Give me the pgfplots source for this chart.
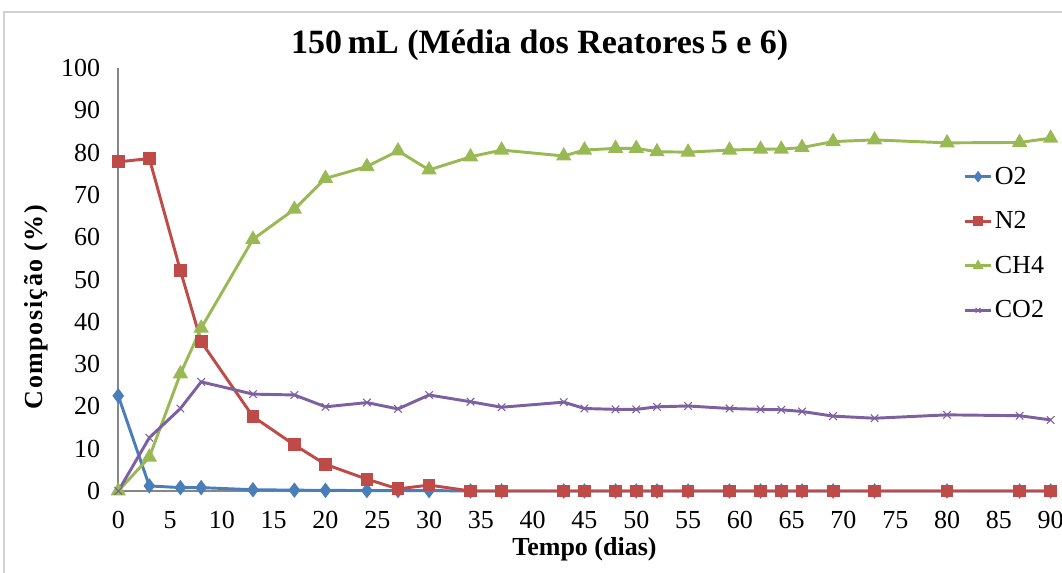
\documentclass[border=0pt]{standalone}
\usepackage{fontspec}
\setmainfont{Liberation Serif}
\usepackage{pgfplots}
\pgfplotsset{compat=1.18}
\definecolor{cO}{HTML}{4A7EBB}
\definecolor{cN}{HTML}{BE4B48}
\definecolor{cC}{HTML}{98B954}
\definecolor{cD}{HTML}{7D60A0}
\definecolor{axg}{HTML}{868686}
\begin{document}
\begin{tikzpicture}
\begin{axis}[
  at={(88.7pt,61.5pt)}, anchor=origin,
  scale only axis, width=699.3pt, height=317.25pt,
  xmin=0, xmax=90, ymin=0, ymax=100,
  xtick={0,5,...,90}, ytick={0,10,...,100},
  axis x line=bottom, axis y line=left,
  axis line style={-, draw=axg, line width=1.2pt},
  major tick length=0pt,
  clip=false,
  /pgf/number format/assume math mode=true,
  tick label style={font=\fontsize{19.5}{23}\selectfont},
  yticklabel style={xshift=-10pt},
  xticklabel style={yshift=-11.5pt},
  title={150\,mL (Média dos Reatores\,5 e 6)},
  title style={font=\bfseries\fontsize{25.5}{30}\selectfont, at={(axis description cs:0.452,1)}, anchor=base, yshift=4.5pt},
  xlabel={Tempo (dias)},
  xlabel style={font=\bfseries\fontsize{19.5}{23}\selectfont, at={([yshift=-48.75pt]axis description cs:0.5,0)}, anchor=base},
  ylabel={Composição (\%)},
  ylabel style={font=\bfseries\fontsize{19.5}{23}\selectfont\addfontfeatures{LetterSpace=6}, at={([xshift=-57pt]axis description cs:0,0.435)}, anchor=base, rotate=0},
  legend image code/.code={\draw[mark repeat=2,mark phase=2, mark size=2.6pt] plot coordinates {(0pt,0pt) (10pt,0pt) (20pt,0pt)};},
  legend style={at={(axis description cs:0.906,0.771)}, anchor=north west, draw=none, fill=none,
    font=\fontsize{19.5}{23}\selectfont, row sep=16pt, inner sep=0pt,
    nodes={inner sep=1.5pt}},
  legend cell align=left,
  every axis plot/.append style={line width=2.2pt},
]
\addplot[color=cO, mark=diamond*, mark size=4pt] coordinates {
(0,22.5)(3,1.2)(6,0.8)(8,0.8)(13,0.3)(17,0.2)(20,0.15)(24,0.1)(27,0.1)(30,0.1)(34,0)(37,0)(43,0)(45,0)(48,0)(50,0)(52,0)(55,0)(59,0)(62,0)(64,0)(66,0)(69,0)(73,0)(80,0)(87,0)(90,0)};
\addlegendentry{O2}
\addplot[color=cN, mark=square*, mark size=3.7pt] coordinates {
(0,77.8)(3,78.6)(6,52.1)(8,35.3)(13,17.6)(17,10.9)(20,6.3)(24,2.8)(27,0.5)(30,1.4)(34,0)(37,0)(43,0)(45,0)(48,0)(50,0)(52,0)(55,0)(59,0)(62,0)(64,0)(66,0)(69,0)(73,0)(80,0)(87,0)(90,0)};
\addlegendentry{N2}
\addplot[color=cC, mark=triangle*, mark size=4.5pt] coordinates {
(0,0)(3,8.0)(6,27.7)(8,38.5)(13,59.5)(17,66.6)(20,73.9)(24,76.7)(27,80.4)(30,75.9)(34,79.0)(37,80.6)(43,79.2)(45,80.6)(48,81.0)(50,81.0)(52,80.2)(55,80.1)(59,80.6)(62,80.8)(64,80.8)(66,81.2)(69,82.6)(73,83.0)(80,82.3)(87,82.4)(90,83.4)};
\addlegendentry{CH4}
\addplot[color=cD, mark=x, mark size=4pt, mark options={line width=0.8pt}] coordinates {
(0,0)(3,12.6)(6,19.5)(8,25.8)(13,22.9)(17,22.7)(20,19.9)(24,20.9)(27,19.4)(30,22.7)(34,21.1)(37,19.8)(43,21.0)(45,19.5)(48,19.3)(50,19.3)(52,19.9)(55,20.1)(59,19.5)(62,19.3)(64,19.2)(66,18.8)(69,17.7)(73,17.2)(80,18.0)(87,17.8)(90,16.8)};
\addlegendentry{CO2}
\end{axis}
\draw[black!18, line width=1.5pt] (3pt,-20pt) rectangle (830pt,420.75pt);
\pgfresetboundingbox
\path[use as bounding box] (0,0) rectangle (796.5pt,429.75pt);
\end{tikzpicture}
\end{document}
